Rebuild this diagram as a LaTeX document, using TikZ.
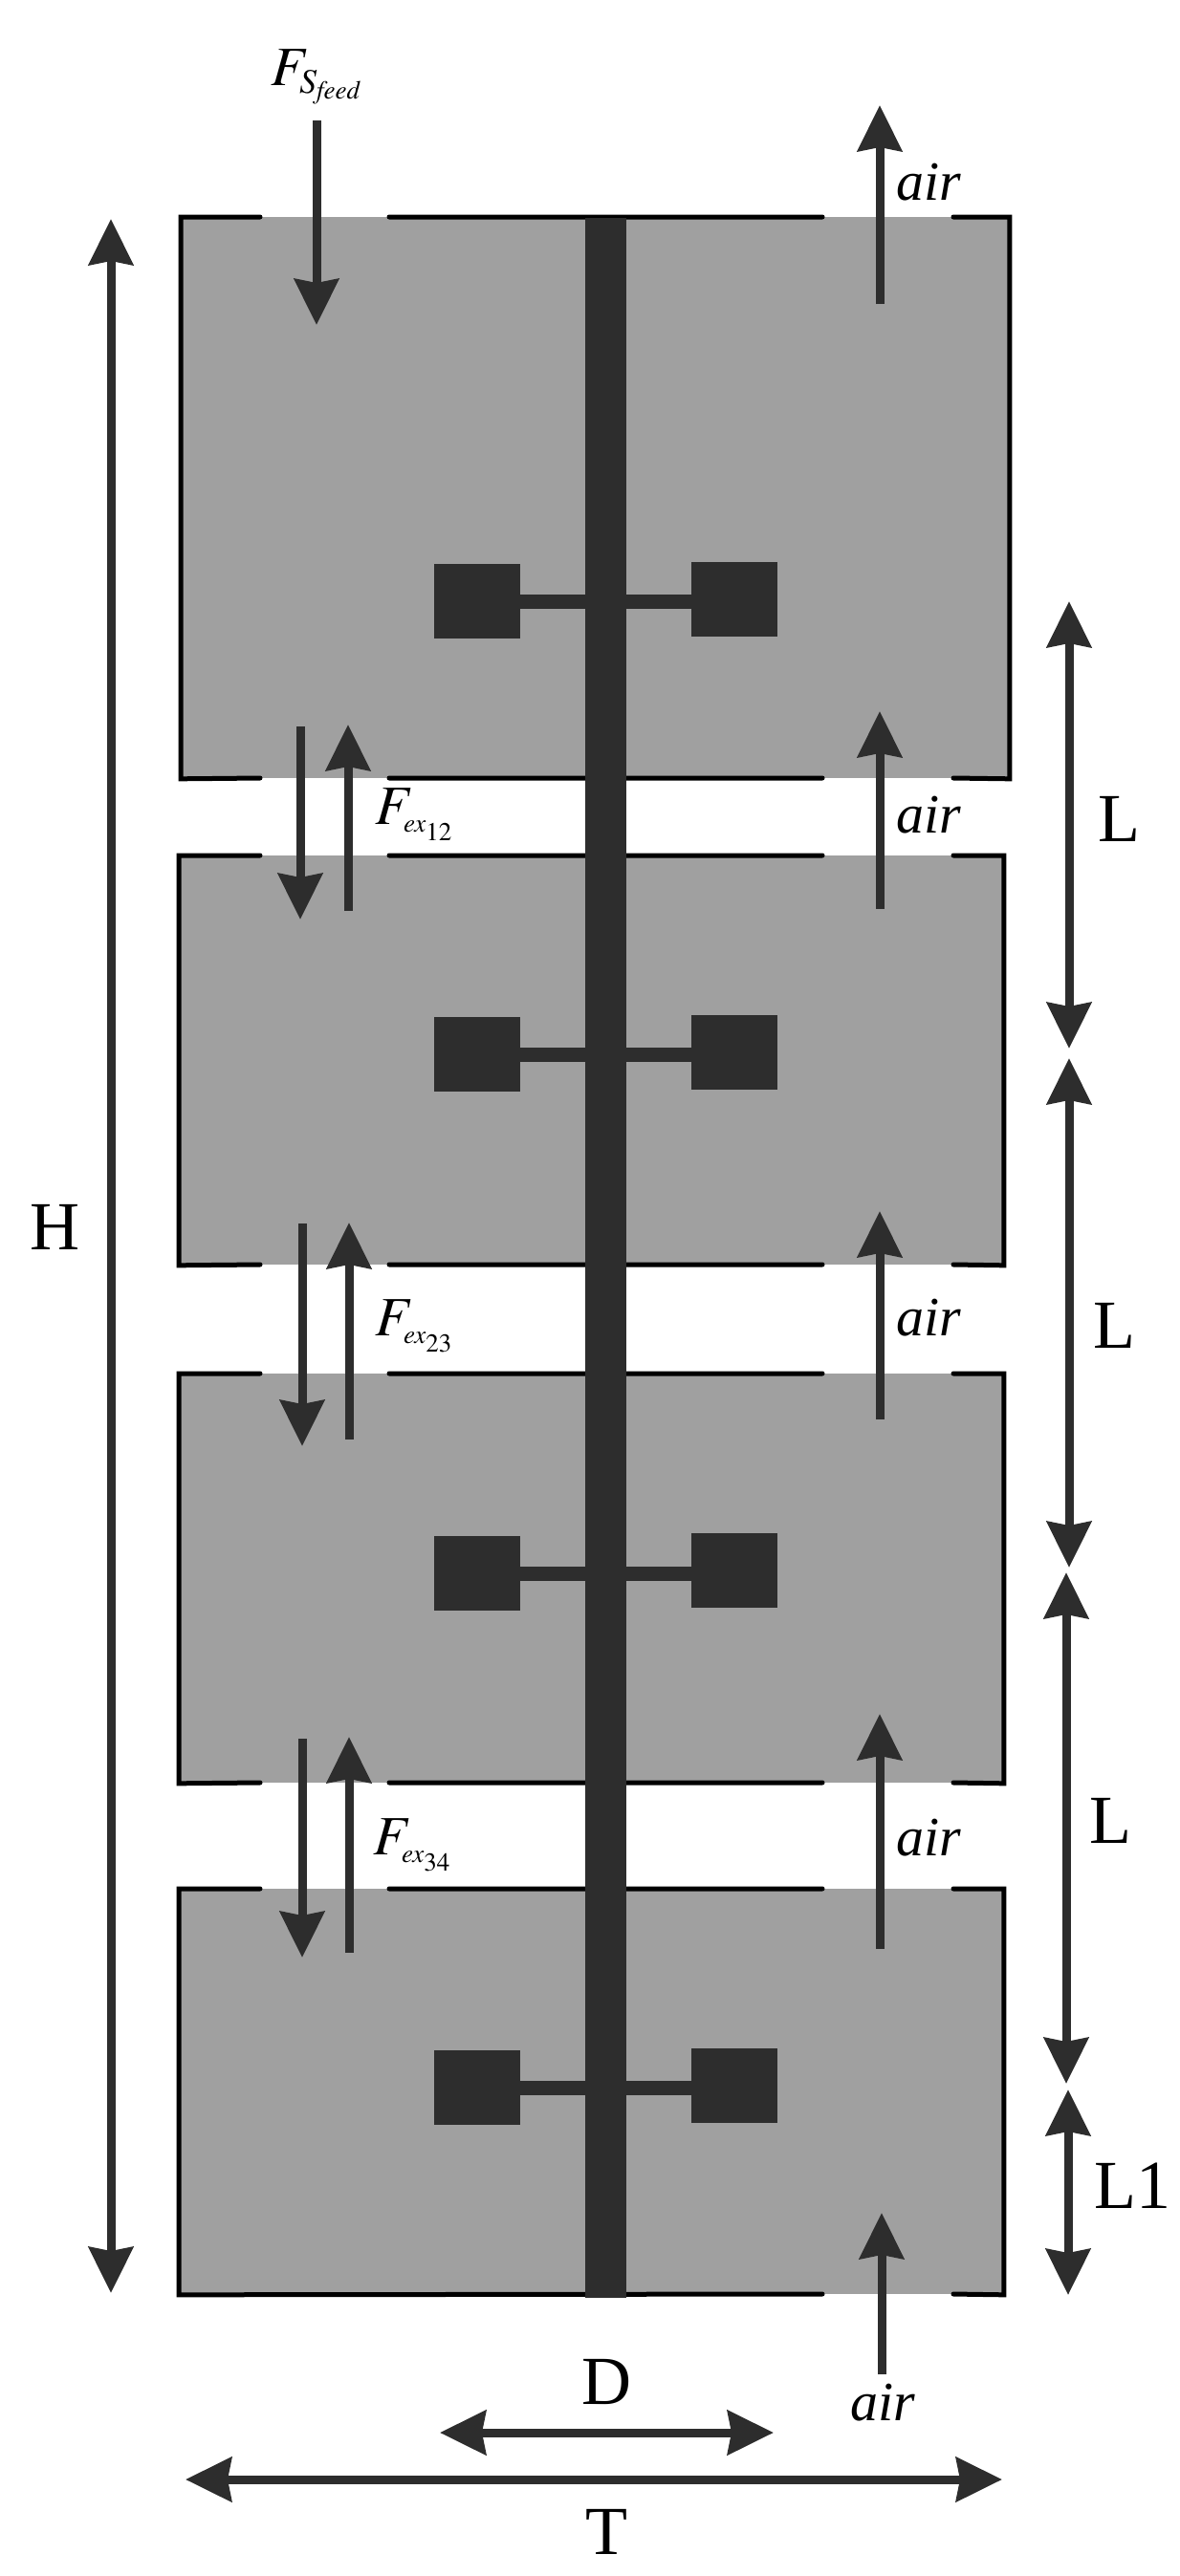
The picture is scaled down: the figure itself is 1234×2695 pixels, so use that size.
\documentclass[tikz,border=0pt]{standalone}
\usepackage{mathptmx}
\usepackage[no-math]{fontspec}
\setmainfont{Liberation Serif}
\usetikzlibrary{arrows.meta}
\DeclareMathSizes{29}{29}{18}{13.5}
\definecolor{tankgray}{HTML}{A0A0A0}
\definecolor{steel}{HTML}{2D2D2D}
\tikzset{
	flow/.style={draw=steel,line width=4.5pt,-{Stealth[length=24pt,width=23pt,inset=2pt]}},
	dim/.style={draw=steel,line width=4.5pt,{Stealth[length=24pt,width=23pt,inset=2pt]}-{Stealth[length=24pt,width=23pt,inset=2pt]}},
	tank/.style={fill=tankgray,inner sep=0pt,anchor=north west},
	wall/.style={draw=black,line width=2.5pt,line cap=round},
	blade/.style={fill=steel,inner sep=0pt,minimum width=45pt,minimum height=39pt},
	rod/.style={draw=steel,line width=7.5pt},
	sym/.style={inner sep=0pt,anchor=base west,font=\fontsize{29}{30}\selectfont},
	len/.style={inner sep=0pt,font=\fontsize{36}{38}\selectfont}
}
\begin{document}
\begin{tikzpicture}[x=0.5pt,y=-0.5pt]
	\useasboundingbox (0,0) rectangle (1234,2695);
	% vessels
	\node[tank,minimum width=433pt,minimum height=293.5pt] (t_1) at (189,227) {};
	\node[tank,minimum width=431pt,minimum height=214pt] (t_2) at (187,895) {};
	\node[tank,minimum width=431pt,minimum height=214pt] (t_3) at (187,1437) {};
	\node[tank,minimum width=431pt,minimum height=212pt] (t_4) at (187,1976) {};
	\path[wall]
	(272,227) -- (t_1.north west) -- (t_1.south west) -- (272,814)
	(407,814) -- (860,814) (997,814) -- (t_1.south east) -- (t_1.north east) -- (997,227)
	(860,227) -- (407,227)
	(272,895) -- (t_2.north west) -- (t_2.south west) -- (272,1323)
	(407,1323) -- (860,1323) (997,1323) -- (t_2.south east) -- (t_2.north east) -- (997,895)
	(860,895) -- (407,895)
	(272,1437) -- (t_3.north west) -- (t_3.south west) -- (272,1865)
	(407,1865) -- (860,1865) (997,1865) -- (t_3.south east) -- (t_3.north east) -- (997,1437)
	(860,1437) -- (407,1437)
	(272,1976) -- (t_4.north west) -- (t_4.south west) -- (860,2400)
	(997,2400) -- (t_4.south east) -- (t_4.north east) -- (997,1976)
	(860,1976) -- (407,1976);
	% shaft and impellers
	\node[fill=steel,inner sep=0pt,minimum width=21.5pt,minimum height=1088pt] (shaft) at (633,1316) {};
	\node[blade] (b_1l) at (499,629) {};
	\node[blade] (b_1r) at (768,627) {};
	\node[blade] (b_2l) at (499,1103) {};
	\node[blade] (b_2r) at (768,1101) {};
	\node[blade] (b_3l) at (499,1646) {};
	\node[blade] (b_3r) at (768,1643) {};
	\node[blade] (b_4l) at (499,2184) {};
	\node[blade] (b_4r) at (768,2182) {};
	\path[rod]
	(b_1l.east) -- (b_1l.east -| b_1r.west)
	(b_2l.east) -- (b_2l.east -| b_2r.west)
	(b_3l.east) -- (b_3l.east -| b_3r.west)
	(b_4l.east) -- (b_4l.east -| b_4r.west);
	% end points of the streams
	\coordinate (feed_a) at (331,126);
	\coordinate (feed_b) at (331,340);
	\coordinate (air_1a) at (920,318);
	\coordinate (air_1b) at (920,110);
	\coordinate (air_2a) at (920,951);
	\coordinate (air_2b) at (920,744);
	\coordinate (air_3a) at (920,1485);
	\coordinate (air_3b) at (920,1267);
	\coordinate (air_4a) at (920,2039);
	\coordinate (air_4b) at (920,1793);
	\coordinate (air_5a) at (922,2484);
	\coordinate (air_5b) at (922,2315);
	\coordinate (ex_1a) at (314,760);
	\coordinate (ex_1b) at (314,962);
	\coordinate (ex_1c) at (364,953);
	\coordinate (ex_1d) at (364,758);
	\coordinate (ex_2a) at (316,1280);
	\coordinate (ex_2b) at (316,1513);
	\coordinate (ex_2c) at (365,1506);
	\coordinate (ex_2d) at (365,1279);
	\coordinate (ex_3a) at (316,1819);
	\coordinate (ex_3b) at (316,2048);
	\coordinate (ex_3c) at (365,2043);
	\coordinate (ex_3d) at (365,1817);
	\path (feed_a) edge[flow] (feed_b)
	(air_1a) edge[flow] (air_1b)
	(air_2a) edge[flow] (air_2b)
	(air_3a) edge[flow] (air_3b)
	(air_4a) edge[flow] (air_4b)
	(air_5a) edge[flow] (air_5b)
	(ex_1a) edge[flow] (ex_1b)
	(ex_1c) edge[flow] (ex_1d)
	(ex_2a) edge[flow] (ex_2b)
	(ex_2c) edge[flow] (ex_2d)
	(ex_3a) edge[flow] (ex_3b)
	(ex_3c) edge[flow] (ex_3d);
	% dimensions
	\coordinate (h_a) at (116,229);
	\coordinate (h_b) at (116,2399);
	\coordinate (l_1a) at (1118,629);
	\coordinate (l_1b) at (1118,1097);
	\coordinate (l_2a) at (1118,1107);
	\coordinate (l_2b) at (1118,1640);
	\coordinate (l_3a) at (1115,1645);
	\coordinate (l_3b) at (1115,2180);
	\coordinate (l_4a) at (1117,2186);
	\coordinate (l_4b) at (1117,2401);
	\coordinate (d_a) at (460,2545);
	\coordinate (d_b) at (809,2545);
	\coordinate (w_a) at (194,2594);
	\coordinate (w_b) at (1048,2594);
	\path (h_a) edge[dim] (h_b)
	(l_1a) edge[dim] (l_1b)
	(l_2a) edge[dim] (l_2b)
	(l_3a) edge[dim] (l_3b)
	(l_4a) edge[dim] (l_4b)
	(d_a) edge[dim] (d_b)
	(w_a) edge[dim] (w_b);
	% labels
	\node[sym] (lab_feed) at (283,89) {$F_{S_{\mathit{feed}}}$};
	\node[sym] (lab_ex1) at (392,862) {$F_{\scriptscriptstyle ex_{12}}$};
	\node[sym] (lab_ex2) at (392,1397) {$F_{\scriptscriptstyle ex_{23}}$};
	\node[sym] (lab_ex3) at (390,1940) {$F_{\scriptscriptstyle ex_{34}}$};
	\node[sym] (lab_air1) at (937,209) {\textit{air}};
	\node[sym] (lab_air2) at (937,871) {\textit{air}};
	\node[sym] (lab_air3) at (937,1397) {\textit{air}};
	\node[sym] (lab_air4) at (937,1941) {\textit{air}};
	\node[sym] (lab_air5) at (889,2532) {\textit{air}};
	\node[len] (lab_h) at (57,1284) {H};
	\node[len] (lab_l1) at (1170,857) {L};
	\node[len] (lab_l2) at (1165,1387) {L};
	\node[len] (lab_l3) at (1161,1905) {L};
	\node[len] (lab_l4) at (1184,2287) {L1};
	\node[len] (lab_d) at (634,2492) {D};
	\node[len] (lab_t) at (634,2649) {T};
\end{tikzpicture}
\end{document}
